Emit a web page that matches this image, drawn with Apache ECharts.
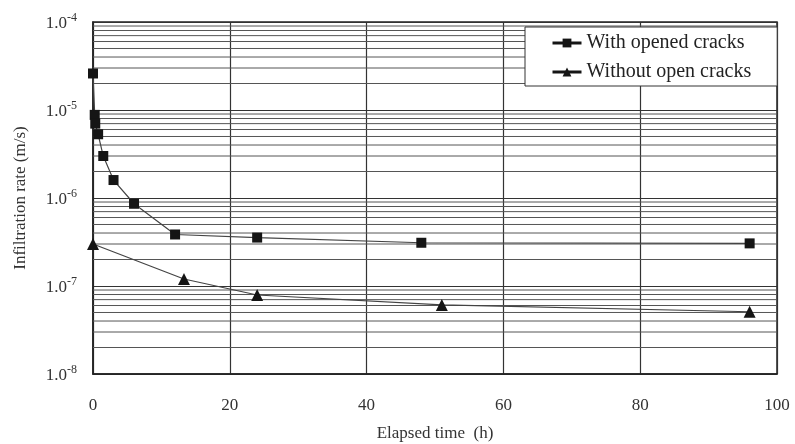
<!DOCTYPE html>
<html>
<head>
<meta charset="utf-8">
<script src="https://cdn.jsdelivr.net/npm/echarts@6/dist/echarts.min.js"></script>
<style>html,body{margin:0;padding:0;background:#fff}#c{width:795px;height:444px}</style>
</head>
<body>
<div id="c"></div>
<script>
const timeOpened = [0, 0.25, 0.33, 0.75, 1.5, 3, 6, 12, 24, 48, 96];
const rateOpened = [2.6e-5, 8.8e-6, 7.0e-6, 5.3e-6, 3.0e-6, 1.6e-6, 8.6e-7, 3.85e-7, 3.55e-7, 3.1e-7, 3.05e-7];
const timeClosed = [0, 13.3, 24, 51, 96];
const rateClosed = [3.0e-7, 1.2e-7, 7.9e-8, 6.1e-8, 5.1e-8];
const xTicks = [0, 20, 40, 60, 80, 100];
const yMinorLines = [];
[1e-8, 1e-7, 1e-6, 1e-5].forEach(d => { for (let k = 2; k <= 9; k++) yMinorLines.push(+(k * d).toPrecision(2)); });

const FONT = '"Liberation Serif", "Times New Roman", serif';
const xMin = xTicks[0], xMax = xTicks[xTicks.length - 1];

const minorSeries = yMinorLines.map(v => ({
  name: 'minor', type: 'line', silent: true, z: 1, symbol: 'none',
  data: [[xMin, v], [xMax, v]],
  lineStyle: { color: '#555', width: 1 },
  emphasis: { disabled: true }, tooltip: { show: false }
}));

const chart = echarts.init(document.getElementById('c'));
chart.setOption({
  animation: false,
  textStyle: { fontFamily: FONT },
  grid: { left: 93, right: 18, top: 22, bottom: 70, outerBoundsMode: 'none', containLabel: false,
          show: true, borderColor: '#222', borderWidth: 1.5, backgroundColor: 'transparent' },
  legend: {
    left: 525, top: 27, orient: 'vertical',
    backgroundColor: '#fff', borderColor: '#333', borderWidth: 1, borderRadius: 0,
    padding: [6, 26, 4, 26], itemGap: 9, itemWidth: 29, itemHeight: 11,
    lineStyle: { width: 3, color: '#151515' },
    textStyle: { fontFamily: FONT, fontSize: 20, color: '#222', lineHeight: 20 },
    data: ['With opened cracks', 'Without open cracks']
  },
  xAxis: {
    type: 'value', min: xMin, max: xMax, interval: 20,
    name: 'Elapsed time  (h)', nameLocation: 'middle', nameGap: 51,
    nameTextStyle: { fontFamily: FONT, fontSize: 17, color: '#333' },
    axisLine: { show: true, lineStyle: { color: '#222', width: 1.5 } },
    axisTick: { show: false },
    axisLabel: { fontFamily: FONT, fontSize: 17, color: '#333', margin: 23 },
    splitLine: { show: true, lineStyle: { color: '#333', width: 1.2 } }
  },
  yAxis: {
    type: 'log', logBase: 10, min: 1e-8, max: 1e-4,
    name: 'Infiltration rate (m/s)', nameLocation: 'middle', nameGap: 64,
    nameTextStyle: { fontFamily: FONT, fontSize: 17, color: '#333' },
    axisLine: { show: true, lineStyle: { color: '#222', width: 1.5 } },
    axisTick: { show: false },
    axisLabel: {
      margin: 16,
      formatter: v => '{b|1.0}{s|' + Math.round(Math.log10(v)) + '}',
      rich: {
        b: { fontFamily: FONT, fontSize: 17, color: '#333', padding: [3, 0, 0, 0] },
        s: { fontFamily: FONT, fontSize: 12, color: '#333', verticalAlign: 'top', padding: [0, 0, 8, 0] }
      }
    },
    splitLine: { show: true, lineStyle: { color: '#333', width: 1.2 } }
  },
  series: minorSeries.concat([
    {
      name: 'With opened cracks', type: 'line', z: 3,
      data: timeOpened.map((t, i) => [t, rateOpened[i]]),
      symbol: 'rect', symbolSize: 10,
      lineStyle: { color: '#444', width: 1.2 },
      itemStyle: { color: '#151515' }
    },
    {
      name: 'Without open cracks', type: 'line', z: 3,
      data: timeClosed.map((t, i) => [t, rateClosed[i]]),
      symbol: 'triangle', symbolSize: 12,
      lineStyle: { color: '#444', width: 1.2 },
      itemStyle: { color: '#151515' }
    }
  ])
});
</script>
</body>
</html>
